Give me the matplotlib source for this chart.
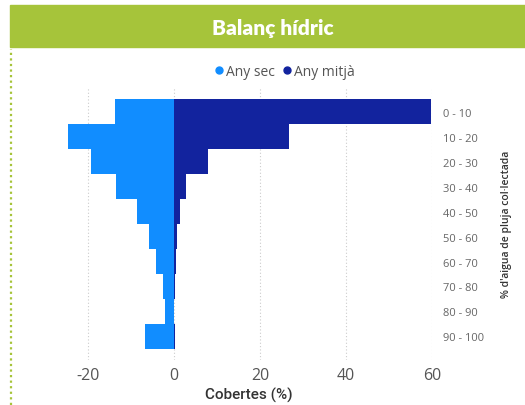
import matplotlib
matplotlib.use("Agg")
import matplotlib.pyplot as plt
from matplotlib.lines import Line2D
from matplotlib.patches import Rectangle
import numpy as np

# dades llegides del gràfic
rangs = ["0 - 10", "10 - 20", "20 - 30", "30 - 40", "40 - 50",
         "50 - 60", "60 - 70", "70 - 80", "80 - 90", "90 - 100"]
any_sec = [-13.7, -24.6, -19.4, -13.5, -8.5, -5.9, -4.1, -2.5, -2.1, -6.7]
any_mitja = [59.8, 26.7, 8.0, 2.8, 1.5, 0.6, 0.4, 0.2, 0.1, 0.3]
xticks = [-20, 0, 20, 40, 60]

c_sec = "#118DFF"
c_mitja = "#12239E"
verd = "#A6C43A"

plt.rcParams['font.family'] = ['Open Sans', 'DejaVu Sans']

fig = plt.figure(figsize=(5.25, 4.06), dpi=100)
W, H = 525, 406

# capçalera verda
fig.patches.append(Rectangle((10 / W, 1 - 48 / H), 1 - 10 / W, 42 / H,
                             transform=fig.transFigure, color=verd, zorder=0))
fig.text(273 / W, 1 - 28 / H, "Balanç hídric", color="white", fontsize=15,
         fontweight="heavy", family="Lato", ha="center", va="center")
fig.lines.append(Line2D([11 / W, 11 / W], [0, 1 - 50 / H], transform=fig.transFigure,
                        color=verd, linestyle=(0, (1, 1.5)), linewidth=1.6))

ax = fig.add_axes([66 / W, 1 - 361 / H, (432 - 66) / W, (361 - 88) / H])
y = np.arange(len(rangs))
ax.barh(y, any_sec, height=1.0, color=c_sec, label="Any sec")
ax.barh(y, any_mitja, height=1.0, color=c_mitja, label="Any mitjà")

ax.set_xlim(-25.1, 60)
ax.set_ylim(9.95, -1.0)
ax.set_xticks(xticks)
ax.set_xticklabels([str(t) for t in xticks], fontsize=11.5, color="#555555")
ax.set_yticks(y)
ax.set_yticklabels(rangs, fontsize=8, color="#666666")
ax.yaxis.tick_right()
ax.tick_params(length=0)
ax.tick_params(axis="y", pad=8)
ax.tick_params(axis="x", pad=5)
for s in ax.spines.values():
    s.set_visible(False)
ax.grid(axis="x", color="#cccccc", linestyle=(0, (1, 2)), linewidth=0.8)
ax.set_axisbelow(True)

ax.set_xlabel("Cobertes (%)", fontsize=11, color="#333333", family="Roboto",
              fontweight="medium", labelpad=3)
ax.yaxis.set_label_position("right")
ax.set_ylabel("% d'aigua de pluja col·lectada", fontsize=7.5, color="#333333",
              fontweight="semibold", labelpad=12)

handles = [Line2D([], [], marker="o", linestyle="", color=c_sec, markersize=5),
           Line2D([], [], marker="o", linestyle="", color=c_mitja, markersize=5)]
fig.legend(handles, ["Any sec", "Any mitjà"], loc="center",
           bbox_to_anchor=(283 / W, 1 - 72 / H), ncol=2, frameon=False,
           fontsize=10, handletextpad=-0.1, columnspacing=0.3, handlelength=1.2,
           labelcolor="#555555")

fig.savefig("out.png", dpi=100, facecolor="white")
